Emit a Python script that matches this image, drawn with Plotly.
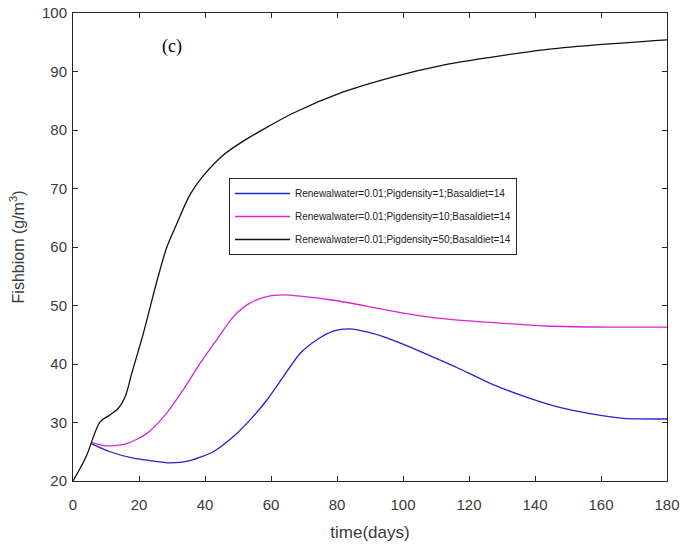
import plotly.graph_objects as go

# ---- data ----
t_black = [0, 4, 8.2, 11.2, 13.7, 15.8, 17.8, 21.3, 25.4, 28.4, 31.4, 35.5, 39.5,
           45.5, 51.6, 56.7, 66.8, 81.9, 97.1, 112.2, 127.4, 142.5, 157.7, 180]
v_black = [20, 24.2, 30.1, 31.3, 32.4, 34.4, 38.4, 45.2, 54.1, 59.9, 63.9, 69.0, 72.2,
           75.7, 78.1, 79.8, 82.9, 86.5, 89.1, 91.1, 92.5, 93.7, 94.5, 95.4]

t_blue = [5.5, 11.2, 18.3, 23.3, 29.4, 35.5, 42.5, 48.6, 53.6, 58.7, 63.7, 68.8, 73.8,
          78.9, 83.9, 89.0, 94.0, 99.1, 106.2, 116.3, 126.4, 136.5, 146.6, 156.7, 166.8, 180]
v_blue = [26.4, 25.0, 23.9, 23.5, 23.1, 23.5, 25.0, 27.6, 30.4, 33.8, 37.8, 41.8, 44.1,
          45.6, 46.0, 45.5, 44.7, 43.6, 41.9, 39.4, 36.7, 34.5, 32.7, 31.5, 30.7, 30.6]

t_pink = [5.5, 10.2, 16.3, 22.3, 28.4, 33.4, 38.5, 43.5, 48.6, 53.6, 58.7, 63.7, 68.8,
          78.9, 89.0, 99.1, 111.2, 126.4, 143.5, 162.7, 180]
v_pink = [26.6, 26.0, 26.4, 28.1, 31.6, 35.6, 40.1, 44.1, 48.1, 50.4, 51.5, 51.8, 51.6,
          50.9, 49.9, 48.8, 47.8, 47.1, 46.5, 46.3, 46.3]

names = ["Renewalwater=0.01;Pigdensity=1;Basaldiet=14",
         "Renewalwater=0.01;Pigdensity=10;Basaldiet=14",
         "Renewalwater=0.01;Pigdensity=50;Basaldiet=14"]

x_ticks = [0, 20, 40, 60, 80, 100, 120, 140, 160, 180]
y_ticks = [20, 30, 40, 50, 60, 70, 80, 90, 100]

NARROW = "Liberation Sans Narrow, Arial Narrow, Liberation Sans, Arial"
REG = "Liberation Sans, Arial, sans-serif"
GRAY = "#3a3a3a"

fig = go.Figure()
fig.add_trace(go.Scatter(x=t_blue, y=v_blue, mode="lines", name=names[0], legendgroup="a",
                         line=dict(color="#2323d2", width=1.3, shape="spline", smoothing=0.7)))
fig.add_trace(go.Scatter(x=t_pink, y=v_pink, mode="lines", name=names[1], legendgroup="b",
                         line=dict(color="#d626d6", width=1.3, shape="spline", smoothing=0.7)))
fig.add_trace(go.Scatter(x=t_black, y=v_black, mode="lines", name=names[2], legendgroup="c",
                         line=dict(color="#111111", width=1.3, shape="spline", smoothing=0.9)))

axis_common = dict(showgrid=False, zeroline=False, showline=True, linecolor="#262626",
                   linewidth=1, mirror="ticks", ticks="inside", ticklen=5,
                   tickcolor="#262626", automargin=False,
                   tickfont=dict(family=REG, size=15, color=GRAY))

fig.update_xaxes(range=[0, 180], tickvals=x_ticks, ticklabelstandoff=10,
                 title=dict(text="time(days)", font=dict(family=REG, size=17, color=GRAY),
                            standoff=14),
                 **axis_common)
fig.update_yaxes(range=[20, 100], tickvals=y_ticks, ticklabelstandoff=2,
                 title=dict(text="Fishbiom (g/m<sup>3</sup>)",
                            font=dict(family=NARROW, size=16, color=GRAY), standoff=13),
                 **axis_common)

fig.add_annotation(x=30, y=94.2, xref="x", yref="y", text="(c)", showarrow=False,
                   font=dict(family="Liberation Serif, Times New Roman, serif", size=18,
                             color="black"))

fig.update_layout(
    width=683, height=544,
    margin=dict(l=73, r=16, t=13, b=63),
    paper_bgcolor="white", plot_bgcolor="white",
    legend=dict(x=0.2626, y=0.6474, xanchor="left", yanchor="top",
                bgcolor="white", bordercolor="#262626", borderwidth=1,
                font=dict(family=NARROW, size=10, color="#222222"),
                tracegroupgap=4, itemwidth=55),
    showlegend=True,
)

fig.write_html("out.html")
